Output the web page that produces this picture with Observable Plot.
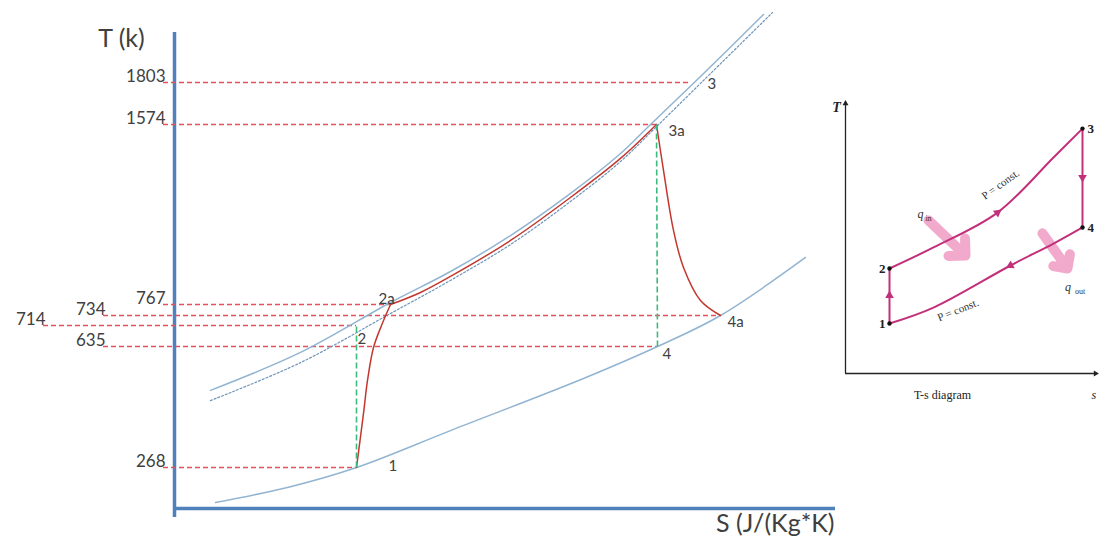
<!DOCTYPE html>
<html><head><meta charset="utf-8">
<script src="https://cdn.jsdelivr.net/npm/d3@7"></script>
<script src="https://cdn.jsdelivr.net/npm/@observablehq/plot@0.6"></script>
<style>
body{margin:0;background:#fff;}
#wrap{position:relative;width:1099px;height:540px;overflow:hidden;}
#main{position:absolute;left:0;top:0;}
#inset{position:absolute;left:815px;top:90px;}
</style></head><body>
<div id="wrap"><div id="main"></div><div id="inset"></div></div>
<script>
// ---- Main T-s diagram data (S in arbitrary entropy units, T in K) ----
const stateNames = ["1", "2", "2a", "3", "3a", "4", "4a"];
const stateS = [1.82, 1.82, 2.16, 5.14, 4.82, 4.83, 5.46];
const stateT = [268, 714, 767, 1803, 1574, 635, 734];

// low-pressure isobar (through 1, 4, 4a)
const lowS = [0.41, 1.16, 1.82, 2.76, 4.09, 4.83, 5.46, 6.31];
const lowT = [162, 210, 268, 380, 538, 635, 734, 978];
// high-pressure isobar (solid)
const highS = [0.36, 1.26, 2.16, 2.76, 3.36, 3.96, 4.46, 4.74, 5.26, 5.89];
const highT = [502, 617, 776, 915, 1076, 1265, 1444, 1565, 1836, 2174];
// high-pressure isobar (dotted)
const high2S = [0.36, 1.26, 2.16, 2.76, 3.36, 3.96, 4.46, 4.81, 5.26, 5.98];
const high2T = [471, 586, 740, 875, 1036, 1229, 1408, 1560, 1798, 2185];
// actual cycle: compression 1->2a, heat addition 2a->3a, expansion 3a->4a
const compS = [1.82, 1.89, 1.93, 1.99, 2.07, 2.16];
const compT = [268, 432, 532, 632, 714, 767];
const heatS = [2.16, 2.46, 2.76, 3.36, 3.96, 4.46, 4.82];
const heatT = [767, 821, 893, 1054, 1247, 1422, 1574];
const expS = [4.82, 4.89, 4.99, 5.09, 5.26, 5.46];
const expT = [1574, 1368, 1099, 933, 785, 734];
// axis extents
const T_MIN = 144, T_MAX = 2076, S_MAX = 6.61;

// ---- Inset (ideal Brayton cycle) data ----
const insetNames = ["1", "2", "3", "4"];
const insetS = [1.76, 1.76, 9.48, 9.48];
const insetT = [1.85, 3.89, 9.07, 5.41];
const insetUpperS = [1.76, 3.52, 6.08, 8.32, 9.48];
const insetUpperT = [3.89, 4.67, 5.96, 8.0, 9.07];
const insetLowerS = [1.76, 3.52, 6.6, 8.32, 9.48];
const insetLowerT = [1.85, 2.44, 4.0, 4.81, 5.41];

const zip = (S, T) => S.map((s, i) => ({S: s, T: T[i]}));
const states = stateNames.map((name, i) => ({name, S: stateS[i], T: stateT[i]}));
const st = Object.fromEntries(states.map(d => [d.name, d]));
const sortedT = [...stateT].sort((a, b) => a - b);

// schematic (non-uniform) temperature axis: piecewise-linear warp of T
const warp = d3.scaleLinear()
  .domain([T_MIN, ...sortedT, T_MAX])
  .range([0, 41, 162, 183, 193, 204, 384, 426, 476]);
const Y = d => warp(d.T);

// styling
const AXIS = "#4f81bd", ISO = "#92b4d1", ISO2 = "#6e94b8", RED = "#c2382e", DASH = "#e0525e", GREEN = "#3dba7e", TXT = "#404040";
const indent = t => t === 714 ? 131 : (t === 734 || t === 635) ? 71 : 11;
const labelOff = {"1": [32, -1], "2": [1, 14], "2a": [-12, -5], "3": [19, 2], "3a": [12, 7], "4": [5, 8], "4a": [7, 7]};

const marks = [
  Plot.ruleX([0], {stroke: AXIS, strokeWidth: 3.5, insetBottom: -9}),
  Plot.ruleY([{T: T_MIN}], {y: Y, stroke: AXIS, strokeWidth: 3.5}),
];
for (const d of states) {
  const ind = indent(d.T);
  marks.push(Plot.ruleY([d], {y: Y, x1: 0, x2: "S", insetLeft: -ind, stroke: DASH, strokeWidth: 1.3, strokeDasharray: "5,3"}));
  marks.push(Plot.text([d], {x: 0, y: Y, text: e => String(e.T), dx: -ind + 2, dy: -1, textAnchor: "end", lineAnchor: "bottom", fontSize: 17, fill: TXT}));
}
marks.push(
  Plot.line(zip(lowS, lowT), {x: "S", y: Y, curve: "catmull-rom", stroke: ISO, strokeWidth: 1.5}),
  Plot.line(zip(highS, highT), {x: "S", y: Y, curve: "catmull-rom", stroke: ISO, strokeWidth: 1.5}),
  Plot.line(zip(high2S, high2T), {x: "S", y: Y, curve: "catmull-rom", stroke: ISO2, strokeWidth: 1.2, strokeDasharray: "2,2"}),
  Plot.line(zip(compS, compT), {x: "S", y: Y, curve: "catmull-rom", stroke: RED, strokeWidth: 1.5}),
  Plot.line(zip(heatS, heatT), {x: "S", y: Y, curve: "catmull-rom", stroke: RED, strokeWidth: 1.5}),
  Plot.line(zip(expS, expT), {x: "S", y: Y, curve: "catmull-rom", stroke: RED, strokeWidth: 1.5}),
  Plot.link([[st["1"], st["2"]], [st["3a"], st["4"]]], {x1: d => d[0].S, y1: d => warp(d[0].T), x2: d => d[1].S, y2: d => warp(d[1].T), stroke: GREEN, strokeWidth: 1.6, strokeDasharray: "6,3"})
);
for (const d of states) {
  const [dx, dy] = labelOff[d.name];
  marks.push(Plot.text([d], {x: "S", y: Y, text: "name", dx, dy, textAnchor: "start", fontSize: 15, fill: TXT}));
}
marks.push(
  Plot.text(["T (k)"], {frameAnchor: "top-left", text: d => d, dx: -53, dy: 6, textAnchor: "middle", lineAnchor: "middle", fontSize: 25, fill: TXT}),
  Plot.text(["S (J/(Kg*K)"], {frameAnchor: "bottom-right", text: d => d, dx: -1, dy: 15, textAnchor: "end", lineAnchor: "middle", fontSize: 25, fill: TXT})
);

const main = Plot.plot({
  width: 1099, height: 540,
  marginLeft: 174, marginRight: 264, marginTop: 32, marginBottom: 32,
  x: {domain: [0, S_MAX], axis: null},
  y: {domain: [0, 476], axis: null},
  style: {fontFamily: "Lato, 'Open Sans', sans-serif", background: "transparent", overflow: "visible"},
  marks
});
document.getElementById("main").append(main);

// ---- Inset ----
const MAG = "#c2307a";
const ipts = insetNames.map((name, i) => ({name, S: insetS[i], T: insetT[i]}));
const ip = Object.fromEntries(ipts.map(d => [d.name, d]));
const serif = "'Liberation Serif', 'DejaVu Serif', serif";
const insetMarks = [
  Plot.ruleX([0], {stroke: "#222", strokeWidth: 1.3}),
  Plot.ruleY([0], {stroke: "#222", strokeWidth: 1.3}),
  Plot.dot([{S: 0, T: 10, r: 0}, {S: 10, T: 0, r: 90}], {x: "S", y: "T", symbol: "triangle", rotate: "r", r: 2.2, fill: "#222"}),
  // heat arrows
  Plot.arrow([{x1: 3.32, y1: 5.67, x2: 4.8, y2: 4.37}, {x1: 7.88, y1: 5.19, x2: 8.88, y2: 3.89}],
    {x1: "x1", y1: "y1", x2: "x2", y2: "y2", stroke: "#f0a0c6", strokeWidth: 10, headLength: 12, headAngle: 90, strokeOpacity: 0.9}),
  Plot.line(zip(insetUpperS, insetUpperT), {x: "S", y: "T", curve: "catmull-rom", stroke: MAG, strokeWidth: 2}),
  Plot.line(zip(insetLowerS, insetLowerT), {x: "S", y: "T", curve: "catmull-rom", stroke: MAG, strokeWidth: 2}),
  Plot.link([[ip["1"], ip["2"]], [ip["3"], ip["4"]]], {x1: d => d[0].S, y1: d => d[0].T, x2: d => d[1].S, y2: d => d[1].T, stroke: MAG, strokeWidth: 2}),
  // direction arrowheads along each process
  Plot.dot([{S: 6.08, T: 5.96, a: 53}, {S: 6.6, T: 4.0, a: 242}, {S: 9.48, T: 7.26, a: 180}, {S: 1.76, T: 2.89, a: 0}],
    {x: "S", y: "T", rotate: "a", symbol: "triangle", r: 3.2, fill: MAG}),
  Plot.dot(ipts, {x: "S", y: "T", r: 2.2, fill: "#111"}),
  Plot.text(ipts.filter(d => d.S < 5), {x: "S", y: "T", text: "name", dx: -4, textAnchor: "end", fontSize: 13, fontWeight: "bold", fill: "#222", fontFamily: serif}),
  Plot.text(ipts.filter(d => d.S > 5), {x: "S", y: "T", text: "name", dx: 5, textAnchor: "start", fontSize: 13, fontWeight: "bold", fill: "#222", fontFamily: serif}),
  Plot.text(["P = const."], {x: 6.2, y: 7.0, text: d => d, rotate: -36, fontSize: 11, fill: "#333", fontFamily: serif}),
  Plot.text(["P = const."], {x: 4.5, y: 2.35, text: d => d, rotate: -22, fontSize: 11, fill: "#333", fontFamily: serif}),
  Plot.text(["q"], {x: 3.0, y: 5.9, text: d => d, fontSize: 12, fontStyle: "italic", fill: "#333", fontFamily: serif}),
  Plot.text(["in"], {x: 3.0, y: 5.9, text: d => d, dx: 8, dy: 4, fontSize: 8, fill: "#333", fontFamily: serif}),
  Plot.text(["q"], {x: 8.9, y: 3.2, text: d => d, fontSize: 12, fontStyle: "italic", fill: "#333", fontFamily: serif}),
  Plot.text(["out"], {x: 8.9, y: 3.2, text: d => d, dx: 12, dy: 4, fontSize: 8, fill: "#333", fontFamily: serif}),
  Plot.text(["T"], {frameAnchor: "top-left", text: d => d, dx: -9, dy: 4, textAnchor: "middle", lineAnchor: "middle", fontSize: 14, fontStyle: "italic", fontWeight: "bold", fill: "#222", fontFamily: serif}),
  Plot.text(["s"], {x: 10, y: 0, text: d => d, dx: -4, dy: 22, textAnchor: "start", fontSize: 12, fontStyle: "italic", fill: "#222", fontFamily: serif}),
  Plot.text(["T-s diagram"], {x: 3.88, y: 0, text: d => d, dy: 22, fontSize: 12, fill: "#222", fontFamily: serif})
];
const inset = Plot.plot({
  width: 284, height: 320,
  marginLeft: 30, marginRight: 4, marginTop: 13, marginBottom: 37,
  x: {domain: [0, 10], axis: null},
  y: {domain: [0, 10], axis: null},
  style: {background: "transparent", overflow: "visible"},
  marks: insetMarks
});
document.getElementById("inset").append(inset);
</script>
</body></html>
